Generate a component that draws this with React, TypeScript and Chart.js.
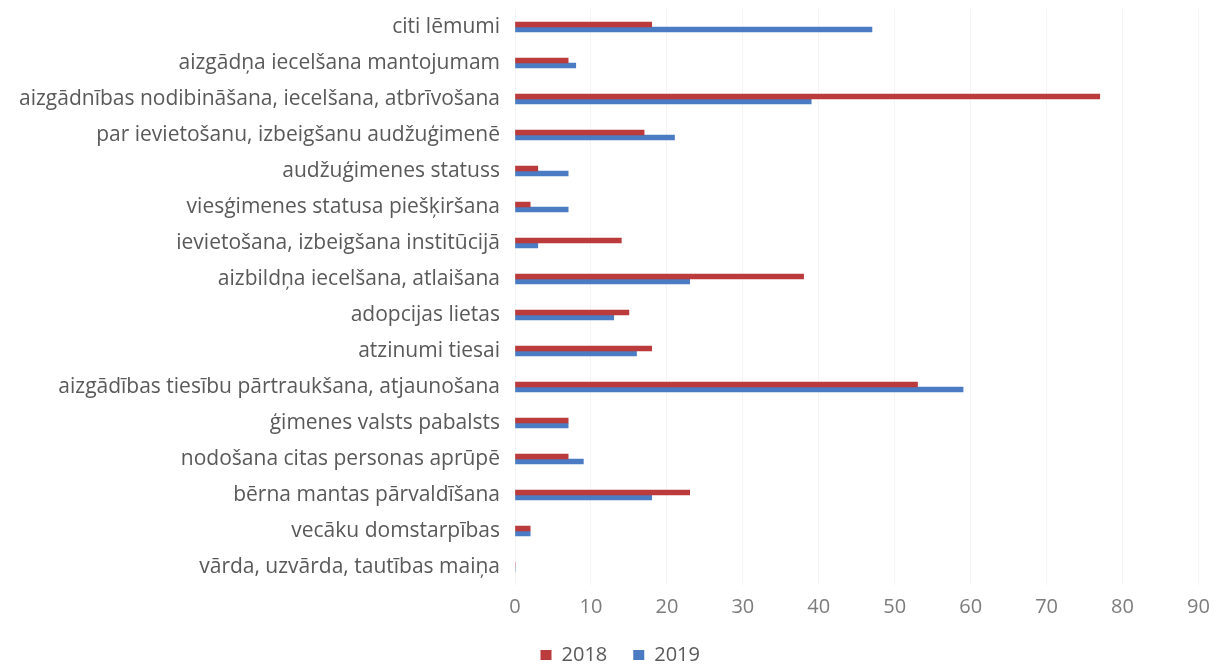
import { useEffect, useRef } from "react";
import { Chart, registerables } from "chart.js";

Chart.register(...registerables);

const categories = [
  "citi lēmumi",
  "aizgādņa iecelšana mantojumam",
  "aizgādnības nodibināšana, iecelšana, atbrīvošana",
  "par ievietošanu, izbeigšanu audžuģimenē",
  "audžuģimenes statuss",
  "viesģimenes statusa piešķiršana",
  "ievietošana, izbeigšana institūcijā",
  "aizbildņa iecelšana, atlaišana",
  "adopcijas lietas",
  "atzinumi tiesai",
  "aizgādības tiesību pārtraukšana, atjaunošana",
  "ģimenes valsts pabalsts",
  "nodošana citas personas aprūpē",
  "bērna mantas pārvaldīšana",
  "vecāku domstarpības",
  "vārda, uzvārda, tautības maiņa",
];

const values2018 = [18, 7, 77, 17, 3, 2, 14, 38, 15, 18, 53, 7, 7, 23, 2, 0];
const values2019 = [47, 8, 39, 21, 7, 7, 3, 23, 13, 16, 59, 7, 9, 18, 2, 0];

const seriesNames = ["2018", "2019"];
const xMin = 0;
const xMax = 90;
const xStep = 10;

const FONT = "'Open Sans', 'DejaVu Sans', sans-serif";

const shiftLegend = {
  id: "shiftLegend",
  afterLayout(chart: any) {
    const lg = chart.legend;
    if (lg) {
      lg.left += 19;
      lg.right += 19;
    }
  },
};

export default function App() {
  const ref = useRef<HTMLCanvasElement>(null);

  useEffect(() => {
    const chart = new Chart(ref.current as HTMLCanvasElement, {
      type: "bar",
      data: {
        labels: categories,
        datasets: [
          {
            label: seriesNames[0],
            data: values2018,
            backgroundColor: "#bb3a3c",
            barThickness: 5,
          },
          {
            label: seriesNames[1],
            data: values2019,
            backgroundColor: "#4a7bc3",
            barThickness: 5,
          },
        ],
      },
      options: {
        indexAxis: "y",
        animation: false,
        responsive: true,
        maintainAspectRatio: false,
        layout: { padding: { top: 9, right: 14.5, left: 4, bottom: -8 } },
        scales: {
          x: {
            min: xMin,
            max: xMax,
            ticks: {
              stepSize: xStep,
              color: "#7c7c7c",
              font: { family: FONT, size: 20 },
              padding: 0,
            },
            grid: {
              color: "#f4f4f4",
              drawTicks: true,
              tickLength: 10,
              tickColor: "rgba(0,0,0,0)",
            },
            border: { display: false },
            afterFit: (scale: any) => {
              scale.height = 34;
            },
          },
          y: {
            ticks: {
              color: "#595959",
              font: { family: FONT, size: 21, lineHeight: 0.86 },
              padding: 0,
            },
            grid: { display: false, drawTicks: true, tickLength: 15 },
            border: { display: false },
            afterFit: (scale: any) => {
              scale.width = 511;
            },
          },
        },
        plugins: {
          legend: {
            position: "bottom",
            labels: {
              boxWidth: 11,
              boxHeight: 10,
              color: "#595959",
              font: { family: FONT, size: 20 },
              padding: 26,
            },
          },
          tooltip: { enabled: false },
        },
      },
      plugins: [shiftLegend],
    });
    return () => chart.destroy();
  }, []);

  return (
    <div
      style={{
        position: "fixed",
        left: 0,
        top: 0,
        width: 1213,
        height: 667,
        background: "#ffffff",
      }}
    >
      <canvas ref={ref} />
    </div>
  );
}
